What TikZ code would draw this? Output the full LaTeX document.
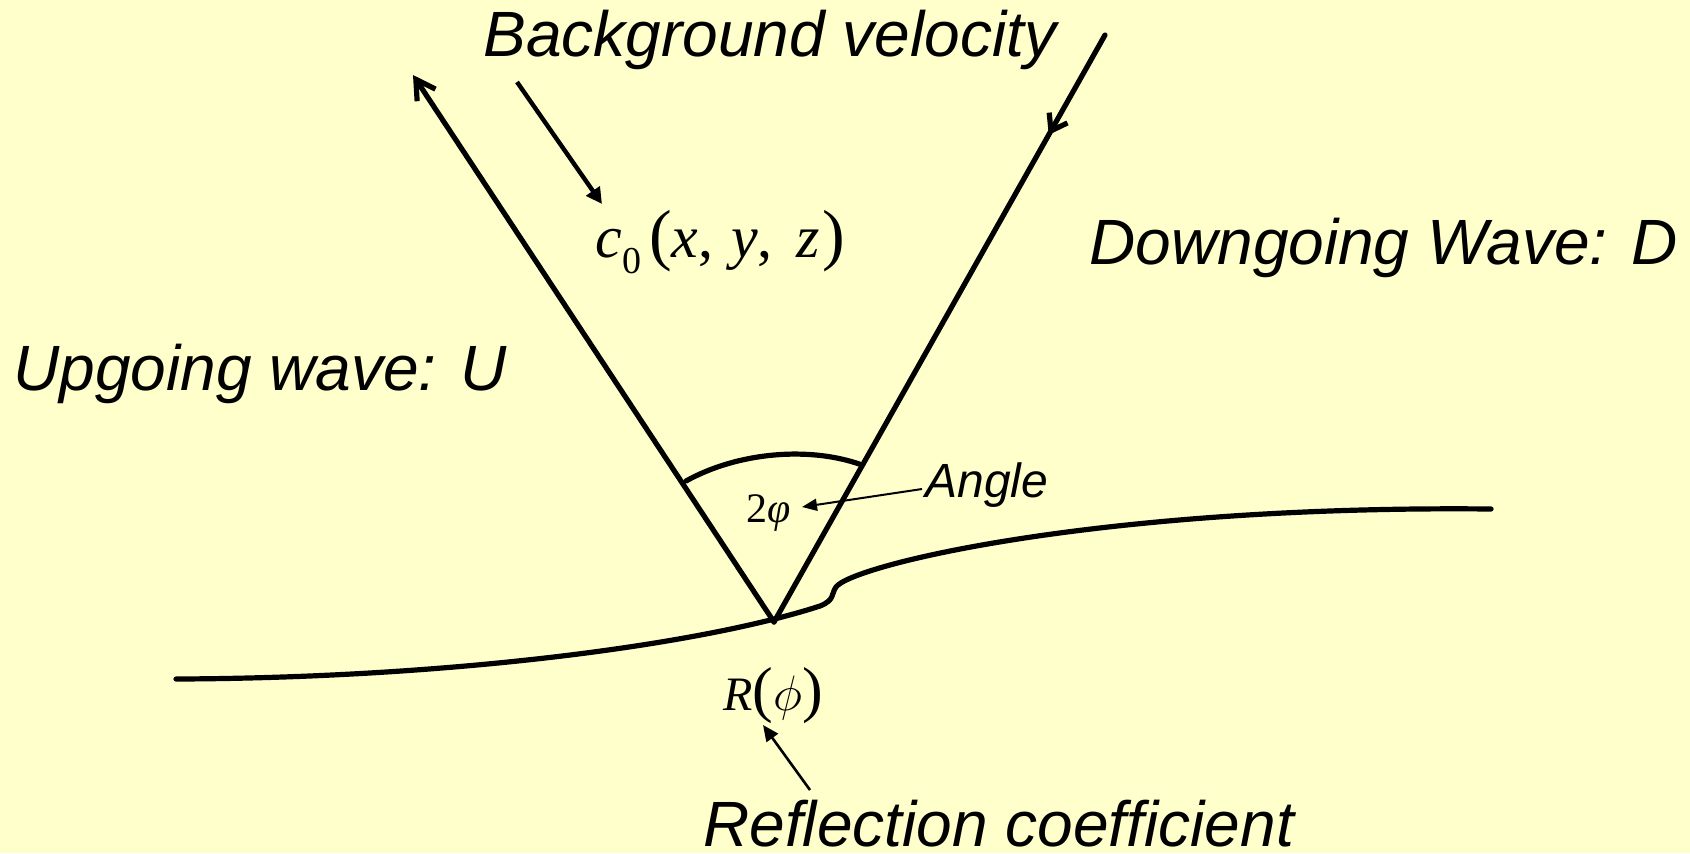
\documentclass[tikz,border=0pt]{standalone}
\usepackage{fontspec}
\setmainfont{Liberation Sans}
\newfontfamily\tnr{Liberation Serif}
\usetikzlibrary{arrows.meta,decorations.markings}
\definecolor{bgyellow}{HTML}{FFFFCC}
\newcommand{\mypar}[1]{{\fontsize{31}{31}\selectfont #1}}
\newcommand{\myparb}[1]{{\fontsize{34}{34}\selectfont #1}}
\begin{document}
\begin{tikzpicture}[x=0.5pt,y=-0.5pt,
  big/.style={font=\fontsize{32}{38}\selectfont\itshape, inner sep=0pt},
  mathlbl/.style={font=\tnr\fontsize{24}{28}\selectfont, inner sep=0pt},
  wave/.style={line width=2.6pt, line cap=round, line join=round},
  thinarrow/.style={line width=1pt, -{Triangle[length=7.5pt,width=6pt]}},
]
\fill[bgyellow] (0,0) rectangle (1690,853);
\useasboundingbox (0,0) rectangle (1690,853);

% texts
\node[big, anchor=base] (bv) at (770,56) {Background velocity};
\node[big, anchor=base west] (dw) at (1089,264) {Downgoing Wave: D};
\node[big, anchor=base west] (uw) at (13,390) {Upgoing wave: U};
\node[big, anchor=base west] (rc) at (703,846) {Reflection coefficient};
\node[font=\fontsize{24}{28}\selectfont\itshape, inner sep=0pt, anchor=base west] (ang) at (925,497) {Angle};
\node[font=\tnr\fontsize{21}{24}\selectfont, inner sep=0pt, anchor=base west] (phi2) at (746,522) {2\textit{φ}};
\node[font=\tnr\fontsize{30}{34}\selectfont, inner sep=0pt, anchor=base west] (c0) at (595,257)
  {\textit{c}\raisebox{-8pt}{\fontsize{19}{19}\selectfont 0}\hspace{4pt}\myparb{(}\textit{x},\hspace{0.3em}\textit{y},\hspace{0.4em}\textit{z}\hspace{1pt}\myparb{)}};
\node[mathlbl, anchor=base west] (rphi) at (723,710) {\textit{R}\mypar{(}$\phi$\mypar{)}};

% geometry
\coordinate (apex) at (774,622);
\coordinate (utop) at (413,75);
\coordinate (dtop) at (1105,35);
\coordinate (bvs) at (517,82);
\coordinate (bve) at (602,204);
\coordinate (angs) at (922,489);
\coordinate (ange) at (802,507);
\coordinate (rcs) at (810,790);
\coordinate (rce) at (763,725);

\draw[wave, -{Straight Barb[length=9.5pt,width=11pt]}] (apex) -- (utop);
\draw[wave, postaction={decorate},
  decoration={markings, mark=at position 0.17 with {\arrow{Straight Barb[length=7.5pt,width=10.5pt]}}}]
  (dtop) -- (apex);

% angle arc
\draw[wave] (686,481) .. controls (738,452) and (810,446) .. (862,465);

% reflector
\draw[wave] (176,679) .. controls (450,678) and (700,645) .. (820,606)
  .. controls (835,600) and (831,594) .. (836,587)
  .. controls (852,565) and (1100,505) .. (1491,509);

% arrows
\draw[line width=2.2pt, -{Triangle[length=8pt,width=8pt]}] (bvs) -- (bve);
\draw[thinarrow] (angs) -- (ange);
\draw[line width=1.3pt, -{Triangle[length=8pt,width=7pt]}] (rcs) -- (rce);
\end{tikzpicture}
\end{document}
